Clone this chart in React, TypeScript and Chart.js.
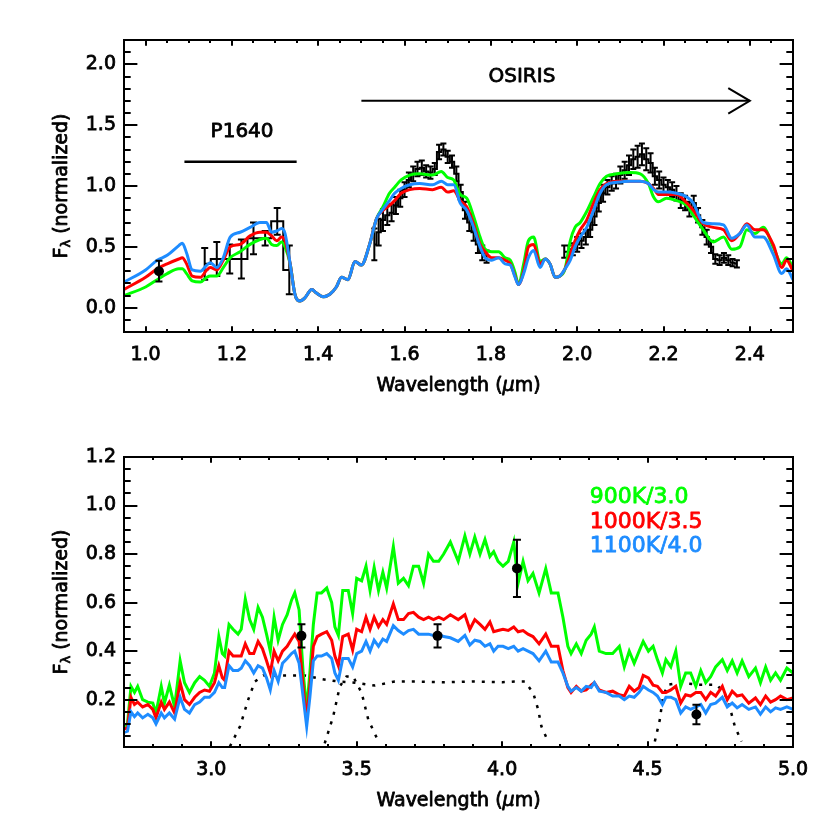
import React, { useEffect, useRef } from "react";
import { Chart, registerables } from "chart.js";

Chart.register(...registerables);

const GREEN = "#00ff00";
const RED = "#ff0000";
const BLUE = "#1e8cff";
const FONT = "DejaVu Sans";

// ---------------- Top panel (0.95 - 2.5 micron) ----------------
const TOP_X_TICKS = [1.0, 1.2, 1.4, 1.6, 1.8, 2.0, 2.2, 2.4];
const TOP_Y_TICKS = [0.0, 0.5, 1.0, 1.5, 2.0];

const TOP_WAVE = [
  0.95, 1.0, 1.027, 1.05, 1.077, 1.085, 1.095, 1.108, 1.127, 1.142,
  1.15, 1.165, 1.18, 1.196, 1.219, 1.242, 1.265, 1.28, 1.292, 1.304,
  1.315, 1.323, 1.335, 1.346, 1.358, 1.369, 1.385, 1.396, 1.412, 1.427,
  1.442, 1.454, 1.469, 1.485, 1.5, 1.519, 1.535, 1.55, 1.565, 1.577,
  1.592, 1.612, 1.635, 1.665, 1.685, 1.7, 1.714, 1.729, 1.744, 1.76,
  1.775, 1.787, 1.802, 1.818, 1.833, 1.845, 1.856, 1.864, 1.876, 1.887,
  1.899, 1.914, 1.926, 1.937, 1.949, 1.96, 1.972, 1.984, 1.995, 2.007,
  2.022, 2.038, 2.053, 2.068, 2.092, 2.123, 2.146, 2.165, 2.177, 2.188,
  2.207, 2.23, 2.254, 2.269, 2.292, 2.315, 2.339, 2.358, 2.377, 2.393,
  2.412, 2.431, 2.454, 2.474, 2.485, 2.5,
];
const TOP_GREEN = [
  0.10, 0.17, 0.23, 0.28, 0.32, 0.32, 0.28, 0.22, 0.21, 0.25,
  0.26, 0.26, 0.33, 0.41, 0.46, 0.52, 0.56, 0.57, 0.52, 0.51,
  0.54, 0.50, 0.36, 0.11, 0.055, 0.08, 0.15, 0.12, 0.09, 0.11,
  0.17, 0.25, 0.23, 0.38, 0.35, 0.52, 0.73, 0.83, 0.94, 0.99,
  1.05, 1.09, 1.10, 1.09, 1.12, 1.07, 1.05, 0.93, 0.90, 0.75,
  0.58, 0.48, 0.46, 0.46, 0.41, 0.39, 0.29, 0.19, 0.36, 0.55,
  0.58, 0.38, 0.40, 0.36, 0.25, 0.26, 0.32, 0.55, 0.66, 0.70,
  0.79, 0.91, 1.02, 1.08, 1.10, 1.11, 1.10, 1.02, 0.91, 0.87,
  0.90, 0.88, 0.84, 0.76, 0.64, 0.54, 0.58, 0.48, 0.50, 0.64,
  0.61, 0.66, 0.50, 0.36, 0.41, 0.33,
];
const TOP_RED = [
  0.15, 0.25, 0.32, 0.36, 0.40, 0.41, 0.36, 0.26, 0.25, 0.31,
  0.33, 0.31, 0.39, 0.50, 0.52, 0.59, 0.62, 0.62, 0.59, 0.55,
  0.58, 0.55, 0.36, 0.11, 0.055, 0.08, 0.15, 0.12, 0.09, 0.11,
  0.17, 0.25, 0.23, 0.38, 0.35, 0.52, 0.73, 0.80, 0.84, 0.88,
  0.94, 0.97, 0.98, 0.97, 0.99, 0.95, 0.96, 0.88, 0.83, 0.69,
  0.52, 0.46, 0.41, 0.41, 0.39, 0.36, 0.26, 0.19, 0.30, 0.50,
  0.52, 0.36, 0.40, 0.36, 0.25, 0.26, 0.32, 0.44, 0.55, 0.64,
  0.72, 0.86, 0.97, 1.02, 1.04, 1.04, 1.04, 1.02, 0.98, 0.93,
  0.93, 0.93, 0.86, 0.80, 0.69, 0.66, 0.64, 0.55, 0.61, 0.69,
  0.64, 0.64, 0.52, 0.33, 0.39, 0.30,
];
const TOP_BLUE = [
  0.21, 0.31, 0.39, 0.43, 0.51, 0.53, 0.45, 0.31, 0.30, 0.35,
  0.37, 0.33, 0.41, 0.58, 0.62, 0.66, 0.70, 0.70, 0.62, 0.63,
  0.65, 0.61, 0.36, 0.11, 0.055, 0.08, 0.15, 0.12, 0.09, 0.11,
  0.17, 0.25, 0.23, 0.38, 0.35, 0.52, 0.73, 0.81, 0.88, 0.94,
  0.98, 1.01, 1.02, 1.01, 1.04, 1.01, 1.01, 0.86, 0.80, 0.66,
  0.50, 0.41, 0.39, 0.41, 0.36, 0.35, 0.25, 0.19, 0.28, 0.41,
  0.47, 0.33, 0.40, 0.36, 0.25, 0.26, 0.32, 0.39, 0.50, 0.58,
  0.66, 0.80, 0.94, 1.01, 1.03, 1.04, 1.04, 1.02, 0.97, 0.95,
  0.95, 0.94, 0.91, 0.86, 0.70, 0.69, 0.68, 0.57, 0.61, 0.68,
  0.58, 0.58, 0.44, 0.28, 0.32, 0.23,
];

const P1640_WAVE = [1.137, 1.165, 1.195, 1.222, 1.25, 1.277, 1.305, 1.333];
const P1640_FLUX = [0.36, 0.40, 0.40, 0.40, 0.57, 0.57, 0.71, 0.31];
const P1640_ERR = [0.13, 0.14, 0.12, 0.16, 0.13, 0.06, 0.11, 0.2];

const OSIRIS_H_WAVE = [
  1.53, 1.54, 1.55, 1.56, 1.57, 1.58, 1.59, 1.6, 1.61, 1.62,
  1.63, 1.64, 1.65, 1.66, 1.67, 1.68, 1.69, 1.7, 1.71, 1.72,
  1.73, 1.74, 1.75, 1.76, 1.77, 1.78, 1.79,
];
const OSIRIS_H_FLUX = [
  0.52, 0.62, 0.72, 0.76, 0.78, 0.84, 0.90, 0.97, 1.05, 1.10,
  1.14, 1.15, 1.12, 1.11, 1.14, 1.28, 1.30, 1.24, 1.20, 1.10,
  0.95, 0.80, 0.70, 0.62, 0.52, 0.45, 0.42,
];
const OSIRIS_H_ERR = [
  0.13, 0.11, 0.09, 0.08, 0.07, 0.07, 0.07, 0.06, 0.06, 0.06,
  0.06, 0.06, 0.05, 0.05, 0.05, 0.06, 0.05, 0.05, 0.05, 0.06,
  0.06, 0.07, 0.07, 0.07, 0.07, 0.06, 0.05,
];
const OSIRIS_K_WAVE = [
  1.97, 1.98, 1.99, 2.0, 2.01, 2.02, 2.03, 2.04, 2.05, 2.06,
  2.07, 2.08, 2.09, 2.1, 2.11, 2.12, 2.13, 2.14, 2.15, 2.16,
  2.17, 2.18, 2.19, 2.2, 2.21, 2.22, 2.23, 2.24, 2.25, 2.26,
  2.27, 2.28, 2.29, 2.3, 2.31, 2.32, 2.33, 2.34, 2.35, 2.36,
  2.37,
];
const OSIRIS_K_FLUX = [
  0.46, 0.46, 0.48, 0.52, 0.55, 0.58, 0.64, 0.75, 0.86, 0.94,
  0.99, 1.02, 1.04, 1.09, 1.13, 1.17, 1.22, 1.24, 1.26, 1.22,
  1.19, 1.08, 1.05, 1.01, 0.99, 0.97, 0.94, 0.88, 0.86, 0.81,
  0.86, 0.76, 0.66, 0.58, 0.50, 0.40, 0.39, 0.41, 0.39, 0.37,
  0.36,
];
const OSIRIS_K_ERR = [
  0.05, 0.05, 0.05, 0.06, 0.06, 0.06, 0.06, 0.07, 0.07, 0.07,
  0.06, 0.06, 0.06, 0.07, 0.07, 0.08, 0.08, 0.09, 0.09, 0.09,
  0.08, 0.07, 0.07, 0.06, 0.06, 0.06, 0.06, 0.06, 0.06, 0.06,
  0.06, 0.06, 0.06, 0.06, 0.05, 0.04, 0.04, 0.04, 0.04, 0.03,
  0.03,
];

const PHOT_TOP_WAVE = [1.031];
const PHOT_TOP_FLUX = [0.3];
const PHOT_TOP_ERR = [0.085];

const P1640_BAR_WAVE = [1.09, 1.35];
const P1640_BAR_Y = [1.2, 1.2];
const OSIRIS_ARROW_WAVE = [1.5, 2.4];
const OSIRIS_ARROW_Y = [1.7, 1.7];
const ARROW_HEAD_WAVE = [2.35, 2.4, 2.35];
const ARROW_HEAD_Y = [1.805, 1.7, 1.595];

const TOP_LABELS = ["P1640", "OSIRIS"];
const TOP_LABEL_X = [1.2236, 1.872];
const TOP_LABEL_Y = [1.443, 1.896];

// ---------------- Bottom panel (2.7 - 5.0 micron) ----------------
const BOT_X_TICKS = [3.0, 3.5, 4.0, 4.5, 5.0];
const BOT_Y_TICKS = [0.2, 0.4, 0.6, 0.8, 1.0, 1.2];

const BOT_WAVE = [
  2.698, 2.712, 2.724, 2.736, 2.747, 2.764, 2.782, 2.799, 2.81, 2.828,
  2.839, 2.856, 2.874, 2.893, 2.908, 2.925, 2.943, 2.96, 2.977, 2.994,
  3.011, 3.026, 3.038, 3.046, 3.061, 3.075, 3.092, 3.103, 3.117, 3.132,
  3.146, 3.161, 3.176, 3.19, 3.203, 3.216, 3.23, 3.245, 3.261, 3.276,
  3.287, 3.302, 3.316, 3.328, 3.339, 3.351, 3.364, 3.379, 3.397, 3.414,
  3.425, 3.437, 3.452, 3.471, 3.486, 3.5, 3.517, 3.532, 3.546, 3.56,
  3.575, 3.59, 3.603, 3.626, 3.643, 3.661, 3.678, 3.695, 3.713, 3.73,
  3.747, 3.764, 3.782, 3.799, 3.822, 3.849, 3.872, 3.889, 3.906, 3.924,
  3.941, 3.958, 3.971, 3.986, 4.003, 4.021, 4.04, 4.055, 4.072, 4.089,
  4.106, 4.127, 4.15, 4.169, 4.192, 4.209, 4.226, 4.237, 4.255, 4.272,
  4.289, 4.306, 4.317, 4.334, 4.357, 4.38, 4.403, 4.42, 4.437, 4.454,
  4.471, 4.485, 4.503, 4.519, 4.534, 4.551, 4.563, 4.58, 4.597, 4.614,
  4.631, 4.648, 4.666, 4.683, 4.7, 4.717, 4.734, 4.757, 4.774, 4.791,
  4.808, 4.825, 4.848, 4.871, 4.888, 4.906, 4.923, 4.94, 4.957, 4.979,
  5.0,
];
const BOT_GREEN = [
  0.09, 0.10, 0.255, 0.23, 0.255, 0.20, 0.19, 0.186, 0.145, 0.255,
  0.186, 0.26, 0.17, 0.36, 0.27, 0.23, 0.27, 0.295, 0.28, 0.255,
  0.31, 0.46, 0.39, 0.38, 0.51, 0.49, 0.47, 0.49, 0.615, 0.53,
  0.49, 0.58, 0.54, 0.47, 0.40, 0.54, 0.445, 0.51, 0.55, 0.61,
  0.64, 0.57, 0.31, 0.16, 0.31, 0.51, 0.64, 0.64, 0.66, 0.60,
  0.50, 0.465, 0.65, 0.65, 0.555, 0.70, 0.69, 0.75, 0.65, 0.745,
  0.65, 0.725, 0.66, 0.83, 0.68, 0.70, 0.67, 0.75, 0.75, 0.68,
  0.80, 0.77, 0.77, 0.80, 0.85, 0.77, 0.875, 0.80, 0.87, 0.80,
  0.86, 0.79, 0.81, 0.77, 0.75, 0.77, 0.85, 0.68, 0.77, 0.69,
  0.72, 0.64, 0.74, 0.64, 0.64, 0.54, 0.42, 0.39, 0.43, 0.39,
  0.445, 0.47, 0.50, 0.40, 0.39, 0.39, 0.42, 0.335, 0.40, 0.35,
  0.40, 0.44, 0.40, 0.42, 0.365, 0.31, 0.365, 0.335, 0.40, 0.255,
  0.31, 0.31, 0.255, 0.32, 0.27, 0.295, 0.335, 0.365, 0.32, 0.36,
  0.31, 0.36, 0.295, 0.33, 0.27, 0.335, 0.28, 0.31, 0.28, 0.33,
  0.31,
];
const BOT_RED = [
  0.077, 0.085, 0.21, 0.18, 0.19, 0.17, 0.18, 0.16, 0.125, 0.19,
  0.16, 0.19, 0.145, 0.27, 0.20, 0.18, 0.21, 0.23, 0.24, 0.235,
  0.27, 0.34, 0.29, 0.28, 0.40, 0.38, 0.38, 0.38, 0.43, 0.39,
  0.39, 0.44, 0.41, 0.36, 0.31, 0.40, 0.36, 0.40, 0.42, 0.45,
  0.47, 0.44, 0.255, 0.12, 0.255, 0.42, 0.46, 0.47, 0.48, 0.445,
  0.38, 0.34, 0.46, 0.47, 0.405, 0.49, 0.48, 0.54, 0.49, 0.54,
  0.50, 0.53, 0.51, 0.595, 0.53, 0.53, 0.555, 0.56, 0.54, 0.53,
  0.54, 0.53, 0.54, 0.53, 0.55, 0.53, 0.55, 0.49, 0.53, 0.51,
  0.49, 0.52, 0.48, 0.485, 0.49, 0.485, 0.50, 0.48, 0.485, 0.47,
  0.46, 0.43, 0.47, 0.42, 0.42, 0.32, 0.25, 0.23, 0.255, 0.235,
  0.24, 0.26, 0.27, 0.24, 0.23, 0.235, 0.22, 0.215, 0.255, 0.235,
  0.25, 0.30, 0.29, 0.26, 0.255, 0.23, 0.23, 0.24, 0.255, 0.186,
  0.22, 0.215, 0.23, 0.23, 0.20, 0.23, 0.215, 0.255, 0.20, 0.235,
  0.215, 0.22, 0.186, 0.207, 0.18, 0.215, 0.19, 0.20, 0.215, 0.20,
  0.207,
];
const BOT_BLUE = [
  0.064, 0.07, 0.15, 0.13, 0.145, 0.125, 0.14, 0.125, 0.10, 0.145,
  0.125, 0.145, 0.12, 0.21, 0.16, 0.145, 0.18, 0.19, 0.21, 0.21,
  0.23, 0.27, 0.25, 0.25, 0.34, 0.32, 0.32, 0.33, 0.36, 0.34,
  0.31, 0.34, 0.33, 0.29, 0.24, 0.32, 0.275, 0.35, 0.37, 0.39,
  0.40, 0.35, 0.21, 0.09, 0.21, 0.36, 0.38, 0.38, 0.39, 0.37,
  0.31, 0.28, 0.37, 0.37, 0.335, 0.39, 0.40, 0.44, 0.40, 0.445,
  0.42, 0.45, 0.44, 0.505, 0.485, 0.47, 0.485, 0.49, 0.47, 0.47,
  0.47, 0.465, 0.47, 0.46, 0.455, 0.44, 0.465, 0.425, 0.445, 0.44,
  0.42, 0.43, 0.40, 0.42, 0.42, 0.41, 0.42, 0.40, 0.41, 0.40,
  0.39, 0.36, 0.40, 0.355, 0.355, 0.31, 0.255, 0.235, 0.25, 0.235,
  0.255, 0.25, 0.27, 0.235, 0.23, 0.215, 0.215, 0.20, 0.215, 0.21,
  0.23, 0.255, 0.24, 0.23, 0.215, 0.18, 0.21, 0.21, 0.20, 0.145,
  0.17, 0.16, 0.17, 0.18, 0.145, 0.18, 0.186, 0.21, 0.17, 0.186,
  0.166, 0.18, 0.16, 0.17, 0.14, 0.17, 0.15, 0.166, 0.16, 0.17,
  0.16,
];

const FILTER_BROAD_WAVE = [
  3.064, 3.099, 3.127, 3.15, 3.179, 3.25, 3.322, 3.379, 3.436, 3.494,
  3.563, 3.631, 3.7, 3.8, 3.9, 4.0, 4.05, 4.078, 4.107, 4.124, 4.135, 4.158,
];
const FILTER_BROAD_VAL = [
  0.007, 0.09, 0.2, 0.275, 0.3, 0.3, 0.3, 0.285, 0.275, 0.27,
  0.258, 0.275, 0.275, 0.272, 0.275, 0.272, 0.275, 0.275, 0.227, 0.159, 0.09, 0.028,
];
const FILTER_NARROW_WAVE = [3.39, 3.419, 3.442, 3.465, 3.488, 3.517, 3.54, 3.574];
const FILTER_NARROW_VAL = [0.02, 0.13, 0.255, 0.295, 0.295, 0.228, 0.117, 0.03];
const FILTER_M_WAVE = [4.525, 4.542, 4.553, 4.57, 4.61, 4.679, 4.737, 4.765, 4.782, 4.8, 4.823];
const FILTER_M_VAL = [0.028, 0.117, 0.213, 0.262, 0.269, 0.262, 0.262, 0.227, 0.172, 0.09, 0.028];

const PHOT_BOT_WAVE = [3.31, 3.778, 4.051, 4.668];
const PHOT_BOT_FLUX = [0.463, 0.463, 0.741, 0.139];
const PHOT_BOT_ERR = [0.048, 0.048, 0.118, 0.04];

const LEGEND_LABELS = ["900K/3.0", "1000K/3.5", "1100K/4.0"];
const LEGEND_COLORS = [GREEN, RED, BLUE];
const LEGEND_X = [4.301, 4.301, 4.301];
const LEGEND_Y = [1.033, 0.93, 0.831];

// ---------------- helpers ----------------
type Pt = { x: number; y: number };
const pts = (w: number[], v: number[]): Pt[] => w.map((x, i) => ({ x, y: v[i] }));

function lineDs(w: number[], v: number[], color: string, width: number, order: number, extra: any = {}) {
  return {
    data: pts(w, v),
    borderColor: color,
    backgroundColor: color,
    borderWidth: width,
    pointRadius: 0,
    fill: false,
    order,
    ...extra,
  };
}

function minorList(min: number, max: number, step: number) {
  const out: number[] = [];
  const start = Math.ceil(min / step - 1e-9);
  const end = Math.floor(max / step + 1e-9);
  for (let k = start; k <= end; k++) out.push(k * step);
  return out;
}

const errorBarPlugin = {
  id: "errorBars",
  afterDatasetDraw(chart: any, args: any) {
    const ds = chart.data.datasets[args.index];
    if (!ds.errors) return;
    const { ctx, chartArea: a, scales } = chart;
    const xs = scales.x;
    const ys = scales.y;
    ctx.save();
    ctx.beginPath();
    ctx.rect(a.left, a.top, a.right - a.left, a.bottom - a.top);
    ctx.clip();
    ctx.strokeStyle = "#000";
    ctx.lineWidth = 2;
    const cap = ds.capHalf || 3.5;
    ctx.beginPath();
    ds.data.forEach((p: Pt, i: number) => {
      const e = ds.errors[i];
      const px = xs.getPixelForValue(p.x);
      const y1 = ys.getPixelForValue(p.y + e);
      const y2 = ys.getPixelForValue(p.y - e);
      ctx.moveTo(px, y1);
      ctx.lineTo(px, y2);
      ctx.moveTo(px - cap, y1);
      ctx.lineTo(px + cap, y1);
      ctx.moveTo(px - cap, y2);
      ctx.lineTo(px + cap, y2);
    });
    ctx.stroke();
    ctx.restore();
  },
};

type FrameCfg = {
  xMajor: number[];
  xMinorStep: number;
  yMajor: number[];
  yMinorStep: number;
  texts: { text: string; x: number; y: number; color: string; size: number; align: CanvasTextAlign }[];
};

function boldText(ctx: CanvasRenderingContext2D, s: string, x: number, y: number, color: string) {
  ctx.fillStyle = color;
  ctx.strokeStyle = color;
  ctx.lineWidth = 0.8;
  ctx.lineJoin = "round";
  ctx.fillText(s, x, y);
  ctx.strokeText(s, x, y);
}

function makeFramePlugin(cfg: FrameCfg) {
  return {
    id: "idlFrame",
    afterDraw(chart: any) {
      const { ctx, chartArea: a, scales } = chart;
      const xs = scales.x;
      const ys = scales.y;
      const w = a.right - a.left;
      const h = a.bottom - a.top;
      const xLen = 0.02 * h;
      const yLen = 0.02 * w;
      ctx.save();
      ctx.strokeStyle = "#000";
      ctx.lineWidth = 2;
      ctx.beginPath();
      const xMin = xs.min, xMax = xs.max, yMin = ys.min, yMax = ys.max;
      minorList(xMin, xMax, cfg.xMinorStep).forEach((v) => {
        const major = cfg.xMajor.some((m) => Math.abs(m - v) < 1e-6);
        const len = major ? xLen : xLen / 2;
        const px = Math.round(xs.getPixelForValue(v));
        ctx.moveTo(px, a.bottom);
        ctx.lineTo(px, a.bottom - len);
        ctx.moveTo(px, a.top);
        ctx.lineTo(px, a.top + len);
      });
      minorList(yMin, yMax, cfg.yMinorStep).forEach((v) => {
        const major = cfg.yMajor.some((m) => Math.abs(m - v) < 1e-6);
        const len = major ? yLen : yLen / 2;
        const py = Math.round(ys.getPixelForValue(v));
        ctx.moveTo(a.left, py);
        ctx.lineTo(a.left + len, py);
        ctx.moveTo(a.right, py);
        ctx.lineTo(a.right - len, py);
      });
      ctx.stroke();
      ctx.strokeRect(a.left, a.top, w, h);

      // annotation texts
      ctx.textBaseline = "middle";
      cfg.texts.forEach((t) => {
        ctx.font = `${t.size}px "${FONT}"`;
        ctx.textAlign = t.align;
        boldText(ctx, t.text, xs.getPixelForValue(t.x), ys.getPixelForValue(t.y), t.color);
      });

      // x title: Wavelength (μm)
      ctx.textAlign = "left";
      const fN = `19px "${FONT}"`;
      const fI = `italic 19px "${FONT}"`;
      const parts: [string, string][] = [
        ["Wavelength (", fN],
        ["\u03bc", fI],
        ["m)", fN],
      ];
      let total = 0;
      parts.forEach(([s, f]) => {
        ctx.font = f;
        total += ctx.measureText(s).width;
      });
      let cx = (a.left + a.right) / 2 - total / 2;
      const ty = a.bottom + 54;
      parts.forEach(([s, f]) => {
        ctx.font = f;
        boldText(ctx, s, cx, ty, "#000");
        cx += ctx.measureText(s).width;
      });

      // y title: F_λ (normalized)
      ctx.save();
      ctx.translate(62, (a.top + a.bottom) / 2);
      ctx.rotate(-Math.PI / 2);
      const fS = `13px "${FONT}"`;
      const yParts: [string, string, number][] = [
        ["F", fN, 0],
        ["\u03bb", fS, 5],
        [" (normalized)", fN, 0],
      ];
      let tw = 0;
      yParts.forEach(([s, f]) => {
        ctx.font = f;
        tw += ctx.measureText(s).width;
      });
      let yx = -tw / 2;
      yParts.forEach(([s, f, dy]) => {
        ctx.font = f;
        boldText(ctx, s, yx, dy, "#000");
        yx += ctx.measureText(s).width;
      });
      ctx.restore();
      ctx.restore();
    },
  };
}

function axisOptions(min: number, max: number, ticks: number[], isX: boolean, size: number) {
  return {
    type: "linear",
    min,
    max,
    grid: { display: false, drawTicks: false },
    border: { display: false },
    ticks: {
      color: "#000",
      textStrokeColor: "#000",
      textStrokeWidth: 0.8,
      font: { family: FONT, size: 19 },
      padding: isX ? 12 : 8,
      maxRotation: 0,
      autoSkip: false,
      callback: (v: any) => Number(v).toFixed(1),
    },
    afterBuildTicks: (s: any) => {
      s.ticks = ticks.map((value) => ({ value }));
    },
    afterFit: (s: any) => {
      if (isX) s.height = size;
      else s.width = size;
    },
  };
}

function topConfig() {
  const datasets: any[] = [
    { ...lineDs(PHOT_TOP_WAVE, PHOT_TOP_FLUX, "#000", 0, 0), showLine: false, pointRadius: 5, pointBorderWidth: 0, pointBackgroundColor: "#000", errors: PHOT_TOP_ERR, capHalf: 3.5 },
    lineDs(TOP_WAVE, TOP_BLUE, BLUE, 3, 1, { cubicInterpolationMode: "monotone" }),
    lineDs(TOP_WAVE, TOP_RED, RED, 3, 2, { cubicInterpolationMode: "monotone" }),
    lineDs(TOP_WAVE, TOP_GREEN, GREEN, 3, 3, { cubicInterpolationMode: "monotone" }),
    lineDs(P1640_BAR_WAVE, P1640_BAR_Y, "#000", 2.5, 4),
    lineDs(OSIRIS_ARROW_WAVE, OSIRIS_ARROW_Y, "#000", 2, 4),
    lineDs(ARROW_HEAD_WAVE, ARROW_HEAD_Y, "#000", 2, 4),
    lineDs(P1640_WAVE, P1640_FLUX, "#000", 2, 5, { stepped: "middle", errors: P1640_ERR, capHalf: 3.5 }),
    lineDs(OSIRIS_H_WAVE, OSIRIS_H_FLUX, "#000", 2, 5, { stepped: "middle", errors: OSIRIS_H_ERR, capHalf: 3 }),
    lineDs(OSIRIS_K_WAVE, OSIRIS_K_FLUX, "#000", 2, 5, { stepped: "middle", errors: OSIRIS_K_ERR, capHalf: 3 }),
  ];
  const frame = makeFramePlugin({
    xMajor: TOP_X_TICKS,
    xMinorStep: 0.05,
    yMajor: TOP_Y_TICKS,
    yMinorStep: 0.1,
    texts: TOP_LABELS.map((t, i) => ({ text: t, x: TOP_LABEL_X[i], y: TOP_LABEL_Y[i], color: "#000", size: 20, align: "center" as CanvasTextAlign })),
  });
  return {
    type: "line",
    data: { datasets },
    plugins: [errorBarPlugin, frame],
    options: {
      animation: false,
      responsive: false,
      maintainAspectRatio: false,
      layout: { padding: { left: 0, right: 37, top: 40, bottom: 0 } },
      plugins: { legend: { display: false }, tooltip: { enabled: false } },
      scales: {
        x: axisOptions(0.95, 2.5, TOP_X_TICKS, true, 83),
        y: axisOptions(-0.2, 2.2, TOP_Y_TICKS, false, 124),
      },
    },
  };
}

function bottomConfig() {
  const dotted = { borderDash: [3, 7] };
  const datasets: any[] = [
    { ...lineDs(PHOT_BOT_WAVE, PHOT_BOT_FLUX, "#000", 0, 0), showLine: false, pointRadius: 5, pointBorderWidth: 0, pointBackgroundColor: "#000", errors: PHOT_BOT_ERR, capHalf: 4 },
    lineDs(BOT_WAVE, BOT_BLUE, BLUE, 3, 1),
    lineDs(BOT_WAVE, BOT_RED, RED, 3, 2),
    lineDs(BOT_WAVE, BOT_GREEN, GREEN, 3, 3),
    lineDs(FILTER_BROAD_WAVE, FILTER_BROAD_VAL, "#000", 2.5, 6, dotted),
    lineDs(FILTER_NARROW_WAVE, FILTER_NARROW_VAL, "#000", 2.5, 6, dotted),
    lineDs(FILTER_M_WAVE, FILTER_M_VAL, "#000", 2.5, 6, dotted),
  ];
  const frame = makeFramePlugin({
    xMajor: BOT_X_TICKS,
    xMinorStep: 0.1,
    yMajor: BOT_Y_TICKS,
    yMinorStep: 0.05,
    texts: LEGEND_LABELS.map((t, i) => ({ text: t, x: LEGEND_X[i], y: LEGEND_Y[i], color: LEGEND_COLORS[i], size: 22, align: "left" as CanvasTextAlign })),
  });
  return {
    type: "line",
    data: { datasets },
    plugins: [errorBarPlugin, frame],
    options: {
      animation: false,
      responsive: false,
      maintainAspectRatio: false,
      layout: { padding: { left: 0, right: 37, top: 42, bottom: 0 } },
      plugins: { legend: { display: false }, tooltip: { enabled: false } },
      scales: {
        x: axisOptions(2.7, 5.0, BOT_X_TICKS, true, 83),
        y: axisOptions(0.005, 1.2, BOT_Y_TICKS, false, 124),
      },
    },
  };
}

function Panel({ makeConfig, top }: { makeConfig: () => any; top: number }) {
  const ref = useRef<HTMLCanvasElement | null>(null);
  useEffect(() => {
    if (!ref.current) return;
    const chart = new Chart(ref.current, makeConfig());
    return () => chart.destroy();
  }, [makeConfig]);
  return (
    <canvas
      ref={ref}
      width={830}
      height={415}
      style={{ position: "absolute", left: 0, top, width: 830, height: 415, display: "block" }}
    />
  );
}

export default function App() {
  useEffect(() => {
    document.body.style.margin = "0";
    document.body.style.background = "#fff";
  }, []);
  return (
    <div style={{ position: "relative", width: 830, height: 830, background: "#fff" }}>
      <Panel makeConfig={topConfig} top={0} />
      <Panel makeConfig={bottomConfig} top={415} />
    </div>
  );
}
